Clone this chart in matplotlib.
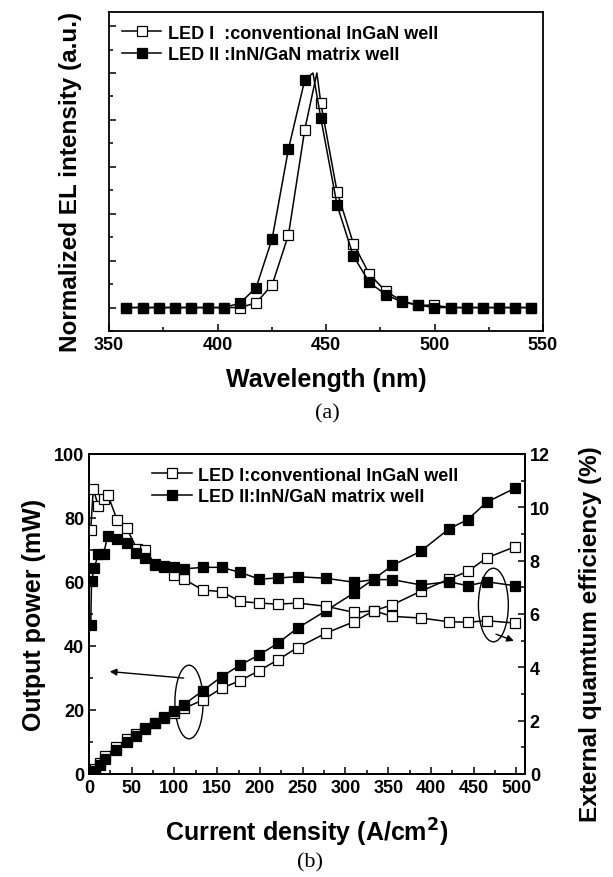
import matplotlib
matplotlib.use("Agg")
import matplotlib.pyplot as plt
from matplotlib.patches import Ellipse
from matplotlib.ticker import MultipleLocator, NullFormatter

plt.rcParams['font.family'] = ['Liberation Sans', 'DejaVu Sans']
plt.rcParams['font.weight'] = 'bold'
plt.rcParams['axes.labelweight'] = 'bold'

# ---------------- Panel (a) data ----------------
wavelength = [358, 365.5, 373, 380.4, 387.9, 395.4, 402.8, 410.3, 417.8, 425.2, 432.7, 440.2,
              447.6, 455.1, 462.6, 470, 477.5, 485, 492.5, 499.9, 507.4, 514.9, 522.3, 529.8,
              537.3, 544.7]
el_led1 = [0, 0, 0, 0, 0, 0, 0, 0, 0.02, 0.097, 0.31, 0.758,
           0.872, 0.494, 0.273, 0.142, 0.07, 0.028, 0.01, 0.01, 0, 0, 0, 0, 0, 0]
el_led2 = [0, 0, 0, 0, 0, 0, 0, 0.018, 0.085, 0.294, 0.676, 0.97,
           0.808, 0.437, 0.22, 0.107, 0.055, 0.024, 0.01, 0, 0, 0, 0, 0, 0, 0]
peak_led1 = (445.8, 1.0)
peak_led2 = (444.0, 1.0)

# ---------------- Panel (b) data ----------------
j_pow1 = [1, 7, 13, 19, 32, 44, 55, 66, 77, 88, 100, 111, 133, 155, 177, 199, 221, 244,
          277, 310, 333, 355, 388, 421, 443, 465, 498]
pow_led1 = [0.5, 1.5, 3.5, 5.7, 8.5, 10.8, 12.5, 14.3, 16, 17.5, 19.2, 20.5, 23.1, 26.8,
            29.2, 32.3, 35.7, 39.5, 44, 47.6, 51, 52.9, 57.1, 60.9, 63.3, 67.5, 71]
j_pow2 = [2, 7, 13, 19, 32, 44, 55, 66, 77, 88, 100, 111, 133, 155, 177, 199, 221, 244,
          277, 310, 333, 355, 388, 421, 443, 465, 498]
pow_led2 = [0.3, 1.0, 2.8, 4.7, 7.6, 10.1, 12, 14.1, 15.8, 17.7, 19.8, 21.7, 26, 30.4,
            34.1, 37.2, 40.9, 45.6, 51, 56.6, 60.9, 65.2, 69.6, 76.6, 79.5, 84.9, 89.3]
j_eqe1 = [2, 5, 11, 17, 22, 33, 44, 56, 66, 77, 88, 100, 111, 133, 155, 177, 199, 221, 244,
          277, 310, 333, 355, 388, 421, 443, 465, 498]
eqe_led1 = [9.15, 10.69, 10.04, 10.31, 10.47, 9.52, 9.22, 8.44, 8.41, 7.87, 7.75, 7.47, 7.31,
            6.9, 6.84, 6.47, 6.41, 6.37, 6.41, 6.29, 6.06, 6.12, 5.91, 5.85, 5.71, 5.69, 5.75, 5.66]
j_eqe2 = [2, 3, 6, 11, 17, 22, 33, 44, 55, 66, 77, 88, 100, 111, 133, 155, 177, 199, 221, 244,
          277, 310, 333, 355, 388, 421, 443, 465, 498]
eqe_led2 = [5.6, 7.25, 7.71, 8.25, 8.25, 8.94, 8.81, 8.66, 8.29, 8.09, 7.84, 7.81, 7.75, 7.69,
            7.75, 7.75, 7.56, 7.31, 7.35, 7.4, 7.34, 7.19, 7.29, 7.29, 7.09, 7.21, 7.06, 7.21, 7.06]

W, H = 613, 878
fig = plt.figure(figsize=(W / 100, H / 100), dpi=100)

def fbox(l, t, r, b):
    return [l / W, 1 - b / H, (r - l) / W, (b - t) / H]

ms = 6.5
lw = 1.1
tick_fs = 13
lab_fs = 17.5

def with_peak(x, y, pk):
    xs = list(x); ys = list(y)
    idx = next(i for i, v in enumerate(xs) if v > pk[0])
    xs.insert(idx, pk[0]); ys.insert(idx, pk[1])
    marks = [i for i in range(len(xs)) if i != idx]
    return xs, ys, marks

# ---------------- Panel (a) ----------------
ax1 = fig.add_axes(fbox(109, 13, 543, 332))
x1, y1, m1 = with_peak(wavelength, el_led1, peak_led1)
x2, y2, m2 = with_peak(wavelength, el_led2, peak_led2)
ax1.plot(x1, y1, '-', color='black', lw=lw, marker='s', ms=ms, mfc='white', mec='black',
         mew=0.9, markevery=m1, label='LED I  :conventional InGaN well')
ax1.plot(x2, y2, '-', color='black', lw=lw, marker='s', ms=ms, mfc='black', mec='black',
         mew=0.9, markevery=m2, label='LED II :InN/GaN matrix well')
ax1.set_xlim(350, 550)
ax1.set_ylim(-0.1, 1.26)
ax1.xaxis.set_major_locator(MultipleLocator(50))
ax1.xaxis.set_minor_locator(MultipleLocator(25))
ax1.yaxis.set_major_locator(MultipleLocator(0.2))
ax1.yaxis.set_minor_locator(MultipleLocator(0.1))
ax1.yaxis.set_major_formatter(NullFormatter())
ax1.tick_params(which='both', direction='in', labelsize=tick_fs, width=1.1)
ax1.tick_params(which='major', length=5)
ax1.tick_params(which='minor', length=3)
for s in ax1.spines.values():
    s.set_linewidth(1.3)
for t in ax1.get_xticklabels():
    t.set_fontweight('bold')
ax1.set_xlabel('Wavelength (nm)', fontsize=18, labelpad=10)
ax1.set_ylabel('Normalized EL intensity (a.u.)', fontsize=lab_fs)
ax1.yaxis.set_label_coords(-0.062, 0.47)
ax1.legend(loc='upper left', bbox_to_anchor=(0.0, 1.0), frameon=False,
           handlelength=2.2, handletextpad=0.35, borderaxespad=0.3, labelspacing=0.25,
           prop={'weight': 'bold', 'size': 13})
fig.text(327 / W, 1 - 414 / H, '(a)', ha='center', va='center', fontsize=16,
         family='Liberation Serif', fontweight='normal')

# ---------------- Panel (b) ----------------
ax2 = fig.add_axes(fbox(89, 455, 525, 775))
ax3 = ax2.twinx()
l1, = ax2.plot(j_pow1, pow_led1, '-', color='black', lw=lw, marker='s', ms=ms, mfc='white',
               mec='black', mew=0.9, label='LED I:conventional InGaN well')
l2, = ax2.plot(j_pow2, pow_led2, '-', color='black', lw=lw, marker='s', ms=ms, mfc='black',
               mec='black', mew=0.9, label='LED II:InN/GaN matrix well')
ax3.plot(j_eqe1, eqe_led1, '-', color='black', lw=lw, marker='s', ms=ms, mfc='white',
         mec='black', mew=0.9)
ax3.plot(j_eqe2, eqe_led2, '-', color='black', lw=lw, marker='s', ms=ms, mfc='black',
         mec='black', mew=0.9)
ax2.set_xlim(0, 510)
ax2.set_ylim(0, 100)
ax3.set_ylim(0, 12)
ax2.xaxis.set_major_locator(MultipleLocator(50))
ax2.xaxis.set_minor_locator(MultipleLocator(25))
ax2.yaxis.set_major_locator(MultipleLocator(20))
ax2.yaxis.set_minor_locator(MultipleLocator(10))
ax3.yaxis.set_major_locator(MultipleLocator(2))
ax3.yaxis.set_minor_locator(MultipleLocator(1))
for a in (ax2, ax3):
    a.tick_params(which='both', direction='in', labelsize=tick_fs, width=1.1)
    a.tick_params(which='major', length=5)
    a.tick_params(which='minor', length=3)
    for s in a.spines.values():
        s.set_linewidth(1.3)
for t in ax2.get_xticklabels() + ax2.get_yticklabels() + ax3.get_yticklabels():
    t.set_fontweight('bold')
ax2.set_xlabel('Current density (A/cm$^\\mathbf{2}$)', fontsize=18, labelpad=14)
ax2.set_ylabel('Output power (mW)', fontsize=18, labelpad=6)
ax3.set_ylabel('External quamtum efficiency (%)', fontsize=lab_fs)
ax3.yaxis.set_label_coords(1.125, 0.44)
ax3.set_zorder(ax2.get_zorder() + 1)
ax3.patch.set_visible(False)
ax3.legend([l1, l2], [l1.get_label(), l2.get_label()], loc='upper left',
           bbox_to_anchor=(0.115, 1.0), frameon=False, handlelength=2.2,
           handletextpad=0.35, borderaxespad=0.3, labelspacing=0.25,
           prop={'weight': 'bold', 'size': 13})

# annotations: ellipses and arrows
ax2.add_patch(Ellipse((117, 22.5), 33, 23, fill=False, ec='black', lw=1.0))
ax2.annotate('', xy=(21, 32.1), xytext=(114, 29.9),
             arrowprops=dict(arrowstyle='-|>', color='black', lw=1.0, mutation_scale=10))
ax2.add_patch(Ellipse((473, 52.8), 35, 23, fill=False, ec='black', lw=1.0))
ax2.annotate('', xy=(500, 41.3), xytext=(473, 44),
             arrowprops=dict(arrowstyle='-|>', color='black', lw=1.0, mutation_scale=10))

fig.text(310 / W, 1 - 863 / H, '(b)', ha='center', va='center', fontsize=16,
         family='Liberation Serif', fontweight='normal')

fig.savefig('out.png', dpi=100, facecolor='white')
